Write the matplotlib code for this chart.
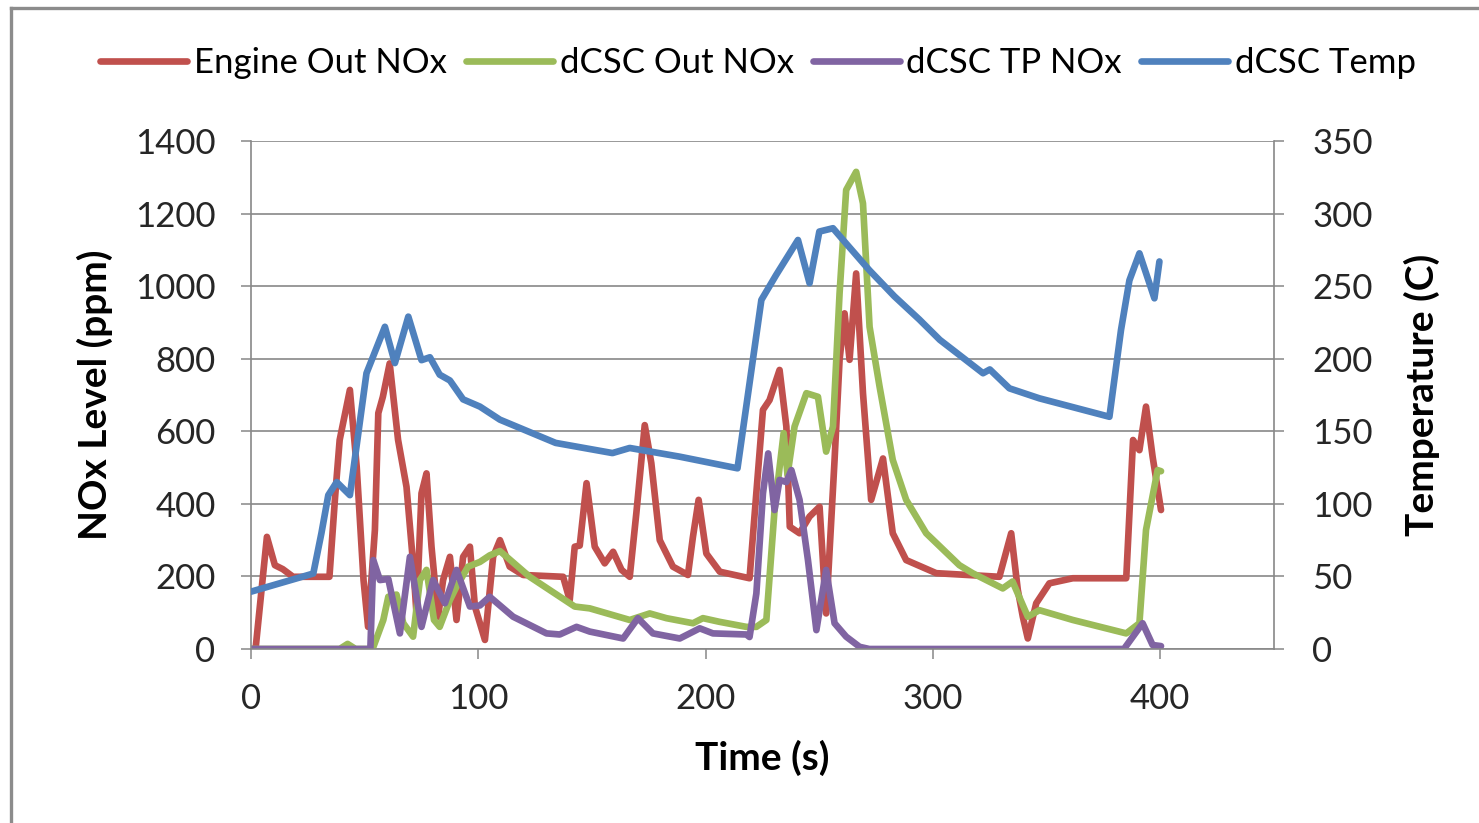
import matplotlib
matplotlib.use("Agg")
import matplotlib.pyplot as plt
from matplotlib.lines import Line2D

plt.rcParams['font.family'] = ['Lato', 'DejaVu Sans']

# ---- series data ----
t_engine = [0, 2, 7, 10.5, 14, 18.5, 34.5, 37, 39, 43.5, 46.5, 49.5, 51.5, 54.5, 56, 58,
            61, 64.7, 68.4, 71.3, 72.8, 75, 77.2, 79.4, 82.3, 84.5, 87.5, 90.4, 93.3, 96.3,
            98.5, 102.9, 106.5, 109.5, 113.8, 119.7, 137.3, 140.2, 142.4, 144.6, 147.6,
            151.2, 155.6, 159.3, 163, 166.6, 169.5, 173.2, 176.1, 179.8, 185.6, 192.2,
            194.4, 196.9, 200.3, 206.2, 219.3, 225.2, 228.1, 232.5, 235.5, 237, 241.3,
            245.7, 250.1, 253, 256.7, 258.9, 261.1, 263.3, 266.2, 269.2, 272.8, 278,
            282.3, 288.2, 301.4, 329.2, 334.4, 337.3, 339.5, 341.7, 345.4, 351.2, 361.5,
            385, 388, 390.8, 393.7, 396.6, 400.3]
engine_out = [0, 0, 309, 231, 220, 199, 199, 420, 576, 714, 502, 190, 61, 328, 650, 695,
              787, 576, 447, 236, 98, 429, 484, 282, 89, 190, 254, 80, 254, 282,
              117, 25, 254, 300, 227, 204, 199, 135, 282, 285, 457,
              282, 236, 268, 218, 199, 374, 617, 512, 300, 227, 204,
              309, 411, 263, 213, 195, 659, 686, 769, 613, 337, 319,
              365, 392, 98, 521, 797, 925, 797, 1035, 705, 411, 525,
              319, 245, 209, 199, 319, 163, 89, 29, 126, 181, 195,
              195, 576, 548, 668, 530, 383]

t_dcsc_out = [0, 39, 42.5, 46, 53.5, 58.2, 60.4, 64, 67, 71.3, 74.3, 77.2, 80.5, 83, 87.5,
              90.4, 95.5, 100.7, 105, 109.5, 122.6, 142.4, 149, 166.6, 175.4, 182.7,
              194.4, 198.8, 206, 217.9, 222.3, 226.7, 230.3, 234.3, 236, 239.1, 244.3,
              249.4, 253, 256, 258.9, 261.8, 266.2, 269.2, 272.1, 276.5, 282.3, 288.2,
              297, 311.6, 317.4, 330.7, 335, 341.7, 346.8, 361.5, 385, 390.8, 393.7,
              398.8, 400.3]
dcsc_out = [0, 0, 14, 0, 0, 80, 144, 150, 71, 34, 190, 218, 80, 61, 135,
            172, 227, 240, 258, 270, 199, 117, 112, 80, 98, 85,
            71, 85, 75, 61, 61, 80, 383, 595, 480, 613, 705,
            695, 544, 613, 980, 1265, 1315, 1228, 888, 723, 521, 411,
            319, 231, 209, 167, 186, 89, 107, 80, 43, 71, 328,
            493, 490]

t_dcsc_tp = [0, 52.5, 53.8, 56.7, 60.4, 65.5, 69.9, 75, 80.1, 85.3, 90.4, 96.3, 100.7,
             105, 115.3, 130, 135.8, 143.2, 149, 163.7, 170.2, 176.8, 188.6, 197.4,
             203.2, 217.9, 219.3, 222.3, 225.2, 227.5, 230.3, 232.5, 235.5, 237.7,
             241.3, 245, 248.7, 253, 256.7, 261.8, 267.7, 272, 384, 392.2, 396.6, 400.3]
dcsc_tp = [0, 0, 245, 190, 193, 43, 254, 61, 190, 126, 218, 117, 120,
           144, 89, 43, 40, 61, 48, 29, 85, 43, 29, 57,
           43, 40, 33, 153, 429, 539, 383, 466, 460, 493,
           411, 245, 52, 218, 71, 34, 6, 0, 0, 71, 11, 8]

t_temp = [0, 27.4, 31, 34, 37.7, 43.5, 50.8, 58.9, 63.3, 69.2, 75, 78.7, 83, 87.5, 93.3,
          100.7, 109.5, 134, 159, 166.6, 188.6, 214, 224.5, 231, 240.6, 245.7, 250, 256,
          262, 272, 283, 294, 303, 322, 325, 333.6, 346.8, 377.6, 382.7, 386.4, 390.8,
          397.4, 399.6]
dcsc_temp = [39.5, 52, 80, 106, 115, 106, 190, 222, 197, 229, 199, 201, 189, 185, 172,
             167, 158, 142, 135, 138.5, 132.5, 124.5, 240.5, 257.7, 281.8, 252, 287.6, 289.9,
             279, 261, 243, 227, 213, 190, 192.6, 179.6, 172.7, 160, 219.8, 254, 272.6,
             241.6, 267]

labels = ["Engine Out NOx", "dCSC Out NOx", "dCSC TP NOx", "dCSC Temp"]
colors = ["#C0504D", "#9BBB59", "#8064A2", "#4F81BD"]

x_ticks = [0, 100, 200, 300, 400]
nox_ticks = [0, 200, 400, 600, 800, 1000, 1200, 1400]
temp_ticks = [0, 50, 100, 150, 200, 250, 300, 350]

W, H = 1479, 823
fig = plt.figure(figsize=(W / 100, H / 100), dpi=100)
fig.patch.set_facecolor("white")

ax = fig.add_axes([251 / W, 1 - 649 / H, (1274 - 251) / W, (649 - 141) / H])
ax2 = ax.twinx()

gray = "#888888"
lw = 4.8
style = dict(lw=lw, solid_capstyle="round", solid_joinstyle="round")

ax.plot(t_engine, engine_out, color=colors[0], **style)
ax.plot(t_dcsc_out, dcsc_out, color=colors[1], **style)
ax.plot(t_dcsc_tp, dcsc_tp, color=colors[2], **style)
ax2.plot(t_temp, dcsc_temp, color=colors[3], **style)

ax.set_xlim(0, 450)
ax.set_ylim(0, 1400)
ax2.set_ylim(0, 350)
ax.set_xticks(x_ticks)
ax.set_yticks(nox_ticks)
ax2.set_yticks(temp_ticks)

ax.yaxis.grid(True, color=gray, lw=1.2)
ax.set_axisbelow(True)

for a in (ax, ax2):
    a.spines["top"].set_visible(False)
    for side in ("left", "right", "bottom"):
        a.spines[side].set_color(gray)
        a.spines[side].set_linewidth(1.2)
ax.spines["right"].set_visible(False)
ax2.spines["left"].set_visible(False)
ax2.spines["bottom"].set_visible(False)

fs = 25
ax.tick_params(axis="y", direction="out", length=7.5, width=1.1, color=gray,
               labelsize=fs, pad=18, labelcolor="#262626")
ax.tick_params(axis="x", direction="out", length=7.5, width=1.1, color=gray,
               labelsize=fs, pad=17, labelcolor="#262626")
ax2.tick_params(axis="y", direction="out", length=7.5, width=1.1, color=gray,
                labelsize=fs, pad=20, labelcolor="#262626")

ax.set_xlabel("Time (s)", fontsize=28, fontweight="bold", labelpad=18)
ax.set_ylabel("NOx Level (ppm)", fontsize=28, fontweight="bold", labelpad=16)
ax2.set_ylabel("Temperature (C)", fontsize=28, fontweight="bold", labelpad=22)

handles = [Line2D([], [], color=c, lw=lw, solid_capstyle="round") for c in colors]
fig.legend(handles, labels, loc="center", bbox_to_anchor=(758 / W, 1 - 63 / H),
           ncol=4, frameon=False, fontsize=fs, handlelength=2.5, handletextpad=0.2,
           columnspacing=0.55, borderaxespad=0)

# outer chart frame (left and top edges)
fx = 11 / W
fy = 1 - 8 / H
fig.add_artist(Line2D([fx, fx], [-0.05, fy], transform=fig.transFigure,
                      color="#8c8c8c", lw=2.4))
fig.add_artist(Line2D([fx, 1.05], [fy, fy], transform=fig.transFigure,
                      color="#8c8c8c", lw=2.4))

fig.savefig("out.png", dpi=100, facecolor="white")
